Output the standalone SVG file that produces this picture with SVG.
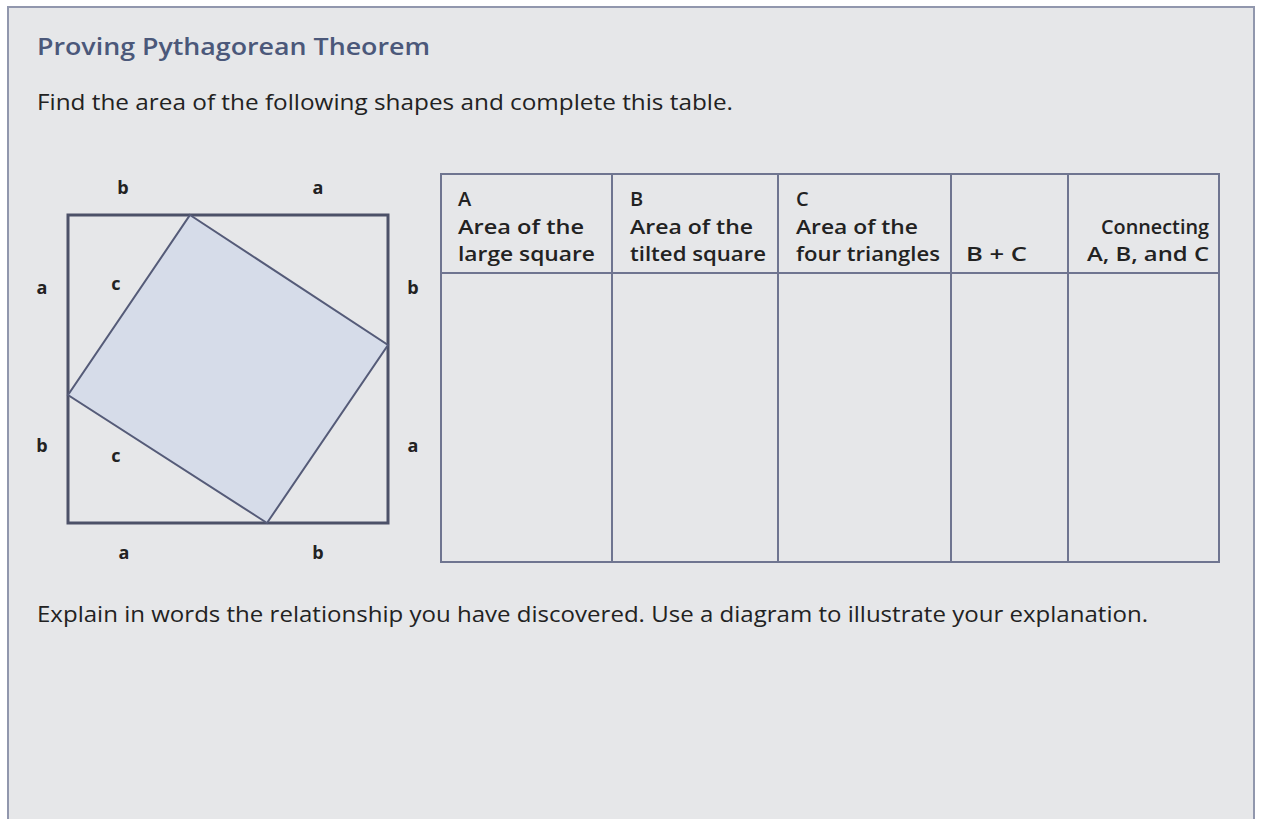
<svg xmlns="http://www.w3.org/2000/svg" width="1261" height="819" viewBox="0 0 1261 819">
<style>
text{font-family:"Open Sans","Noto Sans","Liberation Sans",sans-serif;fill:#222}
.title{font-size:24px;fill:#4b587a;font-weight:600}
.body{font-size:21px}
.lbl{font-size:18px;font-weight:700;text-anchor:middle}
.hd{font-size:20px;font-weight:600}
.tl{stroke:#6f7590;stroke-width:2;fill:none}
</style>
<rect x="0" y="0" width="1261" height="819" fill="#ffffff"/>
<rect id="panel" x="8" y="7" width="1246" height="820" fill="#e6e7e9" stroke="#9197ad" stroke-width="2"/>
<text class="title" x="37" y="55" textLength="393" lengthAdjust="spacingAndGlyphs">Proving Pythagorean Theorem</text>
<text class="body" x="37" y="110" textLength="696" lengthAdjust="spacingAndGlyphs">Find the area of the following shapes and complete this table.</text>
<g id="figure">
<rect x="68" y="215" width="320" height="308" fill="none" stroke="#4c5168" stroke-width="3"/>
<polygon points="190,215 388,345 267,523 68,395" fill="#d6dce9" stroke="#555b78" stroke-width="2"/>
<text class="lbl" x="123" y="194">b</text>
<text class="lbl" x="318" y="194">a</text>
<text class="lbl" x="42" y="294">a</text>
<text class="lbl" x="42" y="452">b</text>
<text class="lbl" x="413" y="294">b</text>
<text class="lbl" x="413" y="452">a</text>
<text class="lbl" x="124" y="559">a</text>
<text class="lbl" x="318" y="559">b</text>
<text class="lbl" x="116" y="290">c</text>
<text class="lbl" x="116" y="462">c</text>
</g>
<g id="table">
<rect class="tl" x="441" y="174" width="778" height="388"/>
<line class="tl" x1="441" y1="273" x2="1219" y2="273"/>
<line class="tl" x1="612" y1="174" x2="612" y2="562"/>
<line class="tl" x1="778" y1="174" x2="778" y2="562"/>
<line class="tl" x1="951" y1="174" x2="951" y2="562"/>
<line class="tl" x1="1068" y1="174" x2="1068" y2="562"/>
<text class="hd" x="458" y="206">A</text>
<text class="hd" x="458" y="234" textLength="126" lengthAdjust="spacingAndGlyphs">Area of the</text>
<text class="hd" x="458" y="261" textLength="137" lengthAdjust="spacingAndGlyphs">large square</text>
<text class="hd" x="630" y="206">B</text>
<text class="hd" x="630" y="234" textLength="123" lengthAdjust="spacingAndGlyphs">Area of the</text>
<text class="hd" x="630" y="261" textLength="136" lengthAdjust="spacingAndGlyphs">tilted square</text>
<text class="hd" x="796" y="206">C</text>
<text class="hd" x="796" y="234" textLength="122" lengthAdjust="spacingAndGlyphs">Area of the</text>
<text class="hd" x="796" y="261" textLength="144" lengthAdjust="spacingAndGlyphs">four triangles</text>
<text class="hd" x="966" y="261" textLength="61" lengthAdjust="spacingAndGlyphs">B + C</text>
<text class="hd" x="1101" y="234" textLength="108" lengthAdjust="spacingAndGlyphs">Connecting</text>
<text class="hd" x="1087" y="261" textLength="122" lengthAdjust="spacingAndGlyphs">A, B, and C</text>
</g>
<text class="body" x="37" y="622" textLength="1111" lengthAdjust="spacingAndGlyphs">Explain in words the relationship you have discovered. Use a diagram to illustrate your explanation.</text>
</svg>
